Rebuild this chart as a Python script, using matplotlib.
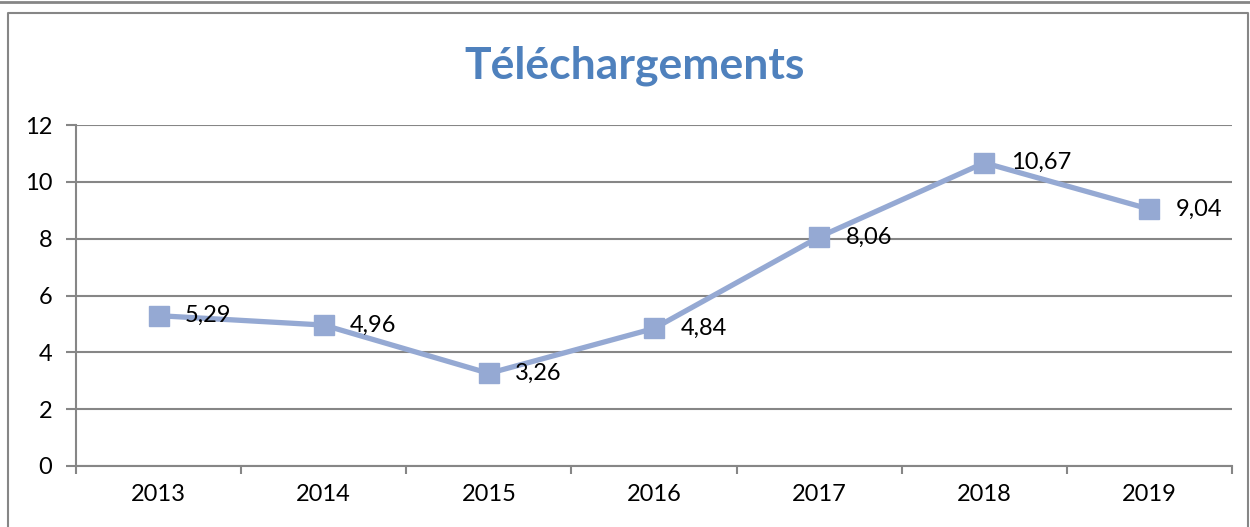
import matplotlib
matplotlib.use("Agg")
import matplotlib.pyplot as plt
from matplotlib.lines import Line2D

years = ["2013", "2014", "2015", "2016", "2017", "2018", "2019"]
downloads = [5.29, 4.96, 3.26, 4.84, 8.06, 10.67, 9.04]
labels = ["5,29", "4,96", "3,26", "4,84", "8,06", "10,67", "9,04"]
yticks = [0, 2, 4, 6, 8, 10, 12]

plt.rcParams['font.family'] = ['Lato', 'DejaVu Sans']

W, H = 1250, 527
fig = plt.figure(figsize=(W / 100, H / 100), dpi=100)
fig.patch.set_facecolor("white")

gray = "#868686"
# outer frame lines
fig.add_artist(Line2D([0, 1], [1 - 1.5 / H, 1 - 1.5 / H], color=gray, lw=2, transform=fig.transFigure))
fig.add_artist(Line2D([7.5 / W, 7.5 / W, 1247.5 / W, 1247.5 / W], [0, 1 - 12.5 / H, 1 - 12.5 / H, 0],
                      color=gray, lw=1.5, transform=fig.transFigure))

left, right = 76 / W, 1232 / W
top, bottom = 1 - 125 / H, 1 - 466 / H
ax = fig.add_axes([left, bottom, right - left, top - bottom])

x = [i + 0.5 for i in range(len(years))]
ax.plot(x, downloads, color="#95A9D3", lw=3.8, marker="s", markersize=14,
        markerfacecolor="#95A9D3", markeredgecolor="#95A9D3", zorder=3)
for xi, yi, lab in zip(x, downloads, labels):
    ax.annotate(lab, (xi, yi), xytext=(19, 0), textcoords="offset points",
                ha="left", va="center", fontsize=17, color="black", zorder=4)

ax.set_xlim(0, len(years))
ax.set_ylim(0, 12)
ax.set_yticks(yticks)
ax.set_yticklabels([str(v) for v in yticks], fontsize=17)
ax.set_xticks(x)
ax.set_xticklabels(years, fontsize=17)
ax.set_xticks(range(len(years) + 1), minor=True)
ax.tick_params(axis="x", which="major", length=0, pad=13)
ax.tick_params(axis="x", which="minor", length=6, color=gray, width=1.5, direction="out")
ax.tick_params(axis="y", length=7, color=gray, width=1.5, pad=10)
ax.grid(axis="y", color=gray, lw=1.5)
ax.set_axisbelow(True)
for s in ["top", "right"]:
    ax.spines[s].set_visible(False)
for s in ["left", "bottom"]:
    ax.spines[s].set_color(gray)
    ax.spines[s].set_linewidth(1.5)

fig.text(635 / W, 1 - 66 / H, "Téléchargements", ha="center", va="center",
         fontsize=32, fontweight="bold", color="#4F81BD")

fig.savefig("out.png", dpi=100)
